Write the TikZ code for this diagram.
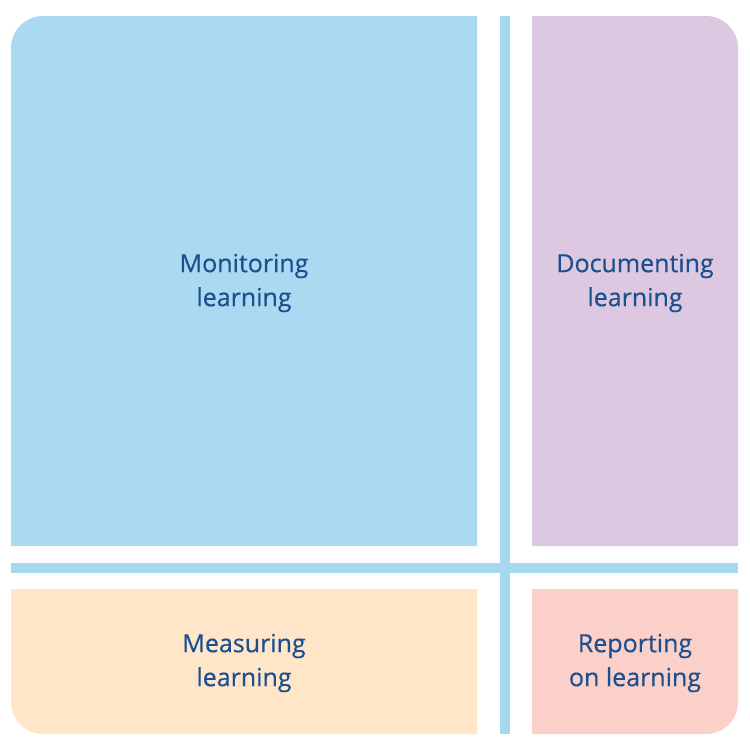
\documentclass[tikz,border=0pt]{standalone}
\usepackage{fontspec}
\setmainfont{Open Sans}
\newfontfamily\lblfont{Open Sans}[FakeBold=0.4]
\definecolor{boxblue}{HTML}{ABD9F2}
\definecolor{lineblue}{HTML}{A6D9EE}
\definecolor{boxpurple}{HTML}{DCC8E1}
\definecolor{boxorange}{HTML}{FFE6C9}
\definecolor{boxsalmon}{HTML}{FBD0C8}
\definecolor{textblue}{HTML}{1C4F8E}
\begin{document}
\begin{tikzpicture}[x=1pt,y=-1pt,
  lbl/.style={text=textblue,align=center,font=\lblfont\fontsize{25}{34}\selectfont,inner sep=0pt}]
\useasboundingbox (0,0) rectangle (750,750);
\fill[white] (0,0) rectangle (750,750);
% boxes
\fill[boxblue] (11,546) [rounded corners=32pt] -- (11,16) [sharp corners] -- (477,16) -- (477,546) -- cycle;
\fill[boxpurple] (532,546) -- (532,16) [rounded corners=32pt] -- (738,16) [sharp corners] -- (738,546) -- cycle;
\fill[boxorange] (477,589) -- (477,734) [rounded corners=32pt] -- (11,734) [sharp corners] -- (11,589) -- cycle;
\fill[boxsalmon] (532,589) -- (738,589) [rounded corners=32pt] -- (738,734) [sharp corners] -- (532,734) -- cycle;
% lines
\fill[lineblue] (500,16) rectangle (509.5,734);
\fill[lineblue] (11,563) rectangle (738,572.5);
% labels
\node[lbl] (mon) at (244,283) {Monitoring\\learning};
\node[lbl] (doc) at (635,283) {Documenting\\learning};
\node[lbl] (mea) at (244,663) {Measuring\\learning};
\node[lbl] (rep) at (635,663) {Reporting\\on learning};
\end{tikzpicture}
\end{document}
